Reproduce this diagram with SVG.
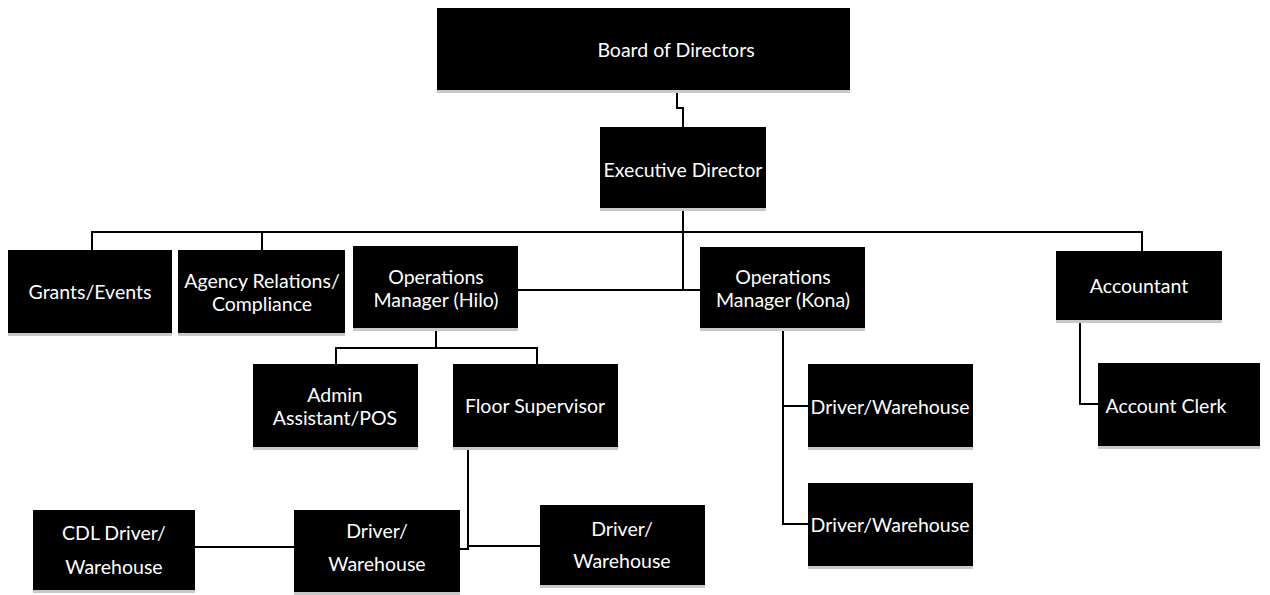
<svg xmlns="http://www.w3.org/2000/svg" width="1270" height="595" viewBox="0 0 1270 595">
<style>
.box{fill:#000}
.sh{fill:#c8c8c8}
.t{font-family:"Lato","Liberation Sans",sans-serif;font-size:19.5px;fill:#fff;text-anchor:middle;dominant-baseline:central}
.c{fill:none;stroke:#000;stroke-width:2}
</style>
<rect width="1270" height="595" fill="#fff"/>
<g id="connectors">
<path class="c" d="M677 90 V108 H683 V127"/>
<path class="c" d="M683 208 V290 H700"/>
<path class="c" d="M518 290 H683"/>
<path class="c" d="M92 250 V232 H1142 V251"/>
<path class="c" d="M262 232 V250"/>
<path class="c" d="M436 328 V348"/>
<path class="c" d="M336 364 V348 H537 V364"/>
<path class="c" d="M468 447 V549 H460"/>
<path class="c" d="M468 546 H540"/>
<path class="c" d="M195 547 H294"/>
<path class="c" d="M783 328 V524 H808"/>
<path class="c" d="M783 406 H808"/>
<path class="c" d="M1080 320 V404 H1098"/>
</g>
<g id="board"><rect class="sh" x="437" y="90" width="413" height="3"/><rect class="box" x="437" y="8" width="413" height="82"/><text class="t" x="676" y="49">Board of Directors</text></g>
<g id="exec"><rect class="sh" x="600" y="208" width="166" height="3"/><rect class="box" x="600" y="127" width="166" height="81"/><text class="t" x="683" y="169">Executive Director</text></g>
<g id="grants"><rect class="sh" x="8" y="333" width="164" height="3"/><rect class="box" x="8" y="250" width="164" height="83"/><text class="t" x="90" y="291">Grants/Events</text></g>
<g id="agency"><rect class="sh" x="178" y="333" width="167" height="3"/><rect class="box" x="178" y="250" width="167" height="83"/><text class="t" x="262" y="280">Agency Relations/</text><text class="t" x="262" y="303">Compliance</text></g>
<g id="opsHilo"><rect class="sh" x="353" y="328" width="165" height="3"/><rect class="box" x="353" y="246" width="165" height="82"/><text class="t" x="436" y="276">Operations</text><text class="t" x="436" y="299">Manager (Hilo)</text></g>
<g id="opsKona"><rect class="sh" x="700" y="328" width="165" height="3"/><rect class="box" x="700" y="247" width="165" height="81"/><text class="t" x="783" y="276">Operations</text><text class="t" x="783" y="299">Manager (Kona)</text></g>
<g id="accountant"><rect class="sh" x="1056" y="320" width="166" height="3"/><rect class="box" x="1056" y="251" width="166" height="69"/><text class="t" x="1139" y="285">Accountant</text></g>
<g id="admin"><rect class="sh" x="253" y="447" width="165" height="3"/><rect class="box" x="253" y="364" width="165" height="83"/><text class="t" x="335" y="394">Admin</text><text class="t" x="335" y="417">Assistant/POS</text></g>
<g id="floor"><rect class="sh" x="453" y="447" width="165" height="3"/><rect class="box" x="453" y="364" width="165" height="83"/><text class="t" x="535" y="405">Floor Supervisor</text></g>
<g id="konaDriver1"><rect class="sh" x="808" y="447" width="165" height="3"/><rect class="box" x="808" y="364" width="165" height="83"/><text class="t" x="890" y="406">Driver/Warehouse</text></g>
<g id="konaDriver2"><rect class="sh" x="808" y="566" width="165" height="3"/><rect class="box" x="808" y="483" width="165" height="83"/><text class="t" x="890" y="524">Driver/Warehouse</text></g>
<g id="clerk"><rect class="sh" x="1098" y="446" width="162" height="3"/><rect class="box" x="1098" y="363" width="162" height="83"/><text class="t" x="1166" y="405">Account Clerk</text></g>
<g id="cdl"><rect class="sh" x="33" y="590" width="162" height="3"/><rect class="box" x="33" y="510" width="162" height="80"/><text class="t" x="114" y="532">CDL Driver/</text><text class="t" x="114" y="566">Warehouse</text></g>
<g id="driverMid"><rect class="sh" x="294" y="592" width="166" height="3"/><rect class="box" x="294" y="510" width="166" height="82"/><text class="t" x="377" y="530">Driver/</text><text class="t" x="377" y="563">Warehouse</text></g>
<g id="driverRight"><rect class="sh" x="540" y="585" width="165" height="3"/><rect class="box" x="540" y="505" width="165" height="80"/><text class="t" x="622" y="528">Driver/</text><text class="t" x="622" y="560">Warehouse</text></g>
</svg>
